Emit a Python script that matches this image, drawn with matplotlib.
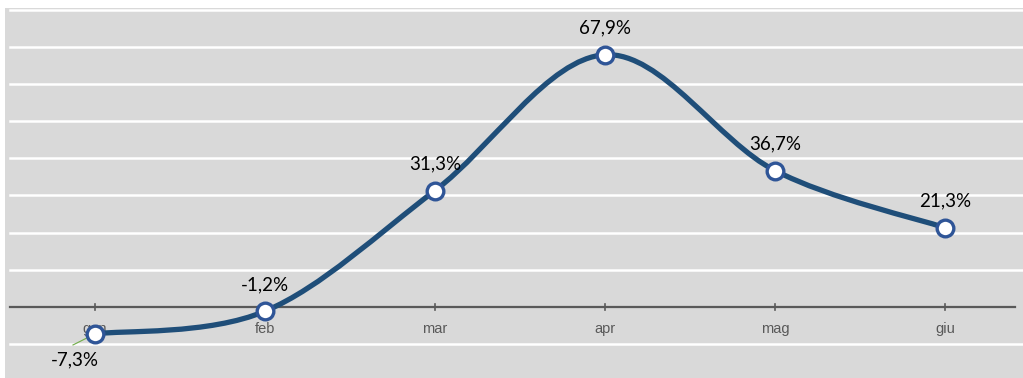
import numpy as np
import matplotlib
matplotlib.use("Agg")
import matplotlib.pyplot as plt
from matplotlib.path import Path
from matplotlib.patches import PathPatch

months = ["gen", "feb", "mar", "apr", "mag", "giu"]
values = [-7.3, -1.2, 31.3, 67.9, 36.7, 21.3]
labels = ["-7,3%", "-1,2%", "31,3%", "67,9%", "36,7%", "21,3%"]

line_col = "#1F4E79"
edge_col = "#2F5597"
bg_col = "#D9D9D9"

fig = plt.figure(figsize=(10.23, 3.78), dpi=100)
ax = fig.add_axes([5 / 1023, 0, 1018 / 1023, 370 / 378])
ax.set_facecolor(bg_col)

x = np.arange(len(values))
y = np.array(values)

# smoothed line like excel: cubic bezier segments (catmull-rom control points)
verts = [(x[0], y[0])]
codes = [Path.MOVETO]
n = len(x)
for i in range(n - 1):
    i0 = max(i - 1, 0)
    i3 = min(i + 2, n - 1)
    c1 = (x[i] + (x[i + 1] - x[i0]) / 6, y[i] + (y[i + 1] - y[i0]) / 6)
    c2 = (x[i + 1] - (x[i3] - x[i]) / 6, y[i + 1] - (y[i3] - y[i]) / 6)
    verts += [c1, c2, (x[i + 1], y[i + 1])]
    codes += [Path.CURVE4] * 3
ax.add_patch(PathPatch(Path(verts, codes), facecolor="none", edgecolor=line_col,
                       lw=3.8, capstyle="round", zorder=3))

ax.plot(x, y, ls="none", marker="o", ms=12, mfc="white", mec=edge_col, mew=2.4, zorder=4)

ax.set_xlim(-0.53, 5.46)
ax.set_ylim(-19.2, 80.5)
ax.set_xticks([])
ax.set_yticks([])
for s in ax.spines.values():
    s.set_visible(False)

# gridlines start a bit in from the left edge, like the original
for g in np.arange(-10, 81, 10):
    if g == 0:
        continue
    ax.axhline(g, xmin=0.005, xmax=1.0, color="white", lw=1.8, zorder=1)
ax.axhline(0, xmin=0.005, xmax=0.992, color="#595959", lw=1.6, zorder=2)

for i, m in enumerate(months):
    ax.plot([x[i], x[i]], [-0.8, 0.8], color="#595959", lw=1.2, zorder=2)
    ax.text(x[i], -6.0, m, ha="center", va="center", fontsize=10.5, color="#595959",
            family=["Liberation Sans Narrow", "Liberation Sans"], zorder=2)

for i, lab in enumerate(labels):
    if i == 0:
        ax.plot([x[i] - 0.13, x[i]], [y[i] - 3.0, y[i]], color="#70AD47", lw=0.8, zorder=2)
        ax.text(x[i] - 0.12, y[i] - 7.0, lab, ha="center", va="center", fontsize=13.5,
                family=["Lato", "DejaVu Sans"], color="black")
    else:
        ax.text(x[i], y[i] + 7.2, lab, ha="center", va="center", fontsize=13.5,
                family=["Lato", "DejaVu Sans"], color="black")

fig.savefig("out.png", dpi=100)
